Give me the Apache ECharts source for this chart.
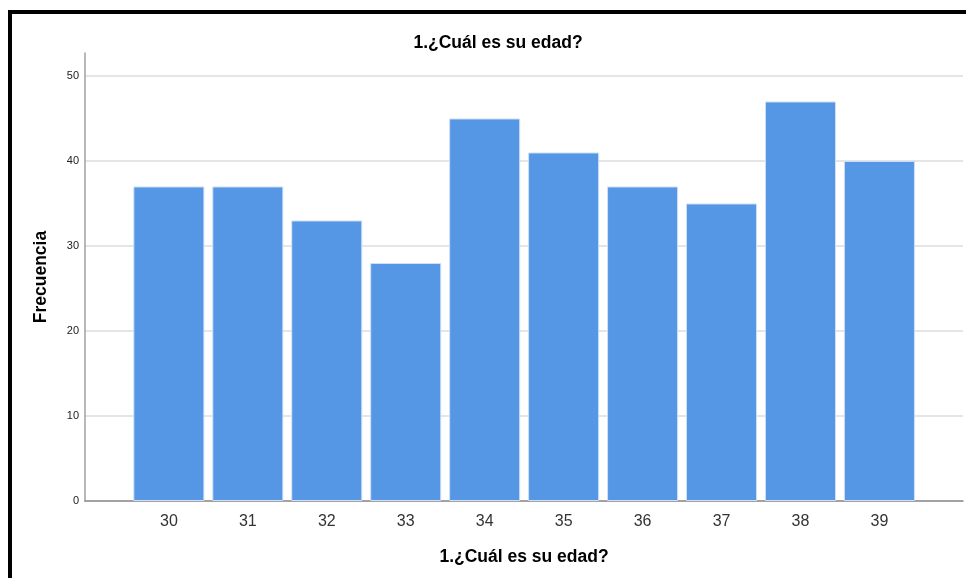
<!DOCTYPE html>
<html>
<head>
<meta charset="utf-8">
<script src="https://cdn.jsdelivr.net/npm/echarts@6/dist/echarts.min.js"></script>
<style>
html,body{margin:0;padding:0;background:#fff;}
#frame{position:absolute;left:8px;top:10px;width:958px;height:568px;border-top:4px solid #000;border-left:4px solid #000;box-sizing:border-box;}
#chart{position:absolute;left:0;top:0;width:966px;height:578px;}
</style>
</head>
<body>
<div id="chart"></div>
<div id="frame"></div>
<script>
const titleText = '1.¿Cuál es su edad?';
const xAxisName = '1.¿Cuál es su edad?';
const yAxisName = 'Frecuencia';
const categories = ['30','31','32','33','34','35','36','37','38','39'];
const frequencies = [37, 37, 33, 28, 45, 41, 37, 35, 47, 40];
const yMin = 0;
const yMax = 52.7;
const yInterval = 10;

const chart = echarts.init(document.getElementById('chart'), null, {renderer:'canvas'});
const font = '"Liberation Sans", Arial, sans-serif';
chart.setOption({
  animation: false,
  title: {
    text: titleText, left: 493, top: 29, textAlign: 'center',
    textStyle: {fontFamily: font, fontSize: 17.5, fontWeight: 'bold', color: '#000'}
  },
  grid: [
    {left: 85, right: 3, top: 53, bottom: 77},
    {left: 129.4, right: 47.1, top: 53, bottom: 77}
  ],
  xAxis: [
    {
      type: 'value', gridIndex: 0, min: 0, max: 1,
      axisLine: {show: true, onZero: false, lineStyle: {color: '#8c8c8c', width: 1.5}},
      axisTick: {show: false}, axisLabel: {show: false}, splitLine: {show: false},
      name: xAxisName, nameLocation: 'middle', nameGap: 47,
      nameTextStyle: {fontFamily: font, fontSize: 17.5, fontWeight: 'bold', color: '#000'}
    },
    {
      type: 'category', gridIndex: 1, data: categories,
      axisLine: {show: false}, axisTick: {show: false},
      axisLabel: {fontFamily: font, fontSize: 16, color: '#333', margin: 13}
    }
  ],
  yAxis: [
    {
      type: 'value', gridIndex: 0, min: yMin, max: yMax, interval: yInterval,
      axisLine: {show: true, lineStyle: {color: '#a0a0a0', width: 1.5}},
      axisTick: {show: false},
      axisLabel: {fontFamily: font, fontSize: 11, color: '#222', margin: 6, showMaxLabel: false},
      splitLine: {show: true, showMaxLine: false, lineStyle: {color: '#dcdcdc', width: 1.5}},
      name: yAxisName, nameLocation: 'middle', nameGap: 35, nameRotate: 90,
      nameTextStyle: {fontFamily: font, fontSize: 17.5, fontWeight: 'bold', color: '#000'}
    },
    {
      type: 'value', gridIndex: 1, min: yMin, max: yMax, interval: yInterval,
      show: false, splitLine: {show: false}
    }
  ],
  series: [{
    type: 'bar', xAxisIndex: 1, yAxisIndex: 1,
    data: frequencies, barCategoryGap: '10%',
    itemStyle: {color: '#5596e5', borderColor: '#cfe0f7', borderWidth: 1}
  }]
});
</script>
</body>
</html>
